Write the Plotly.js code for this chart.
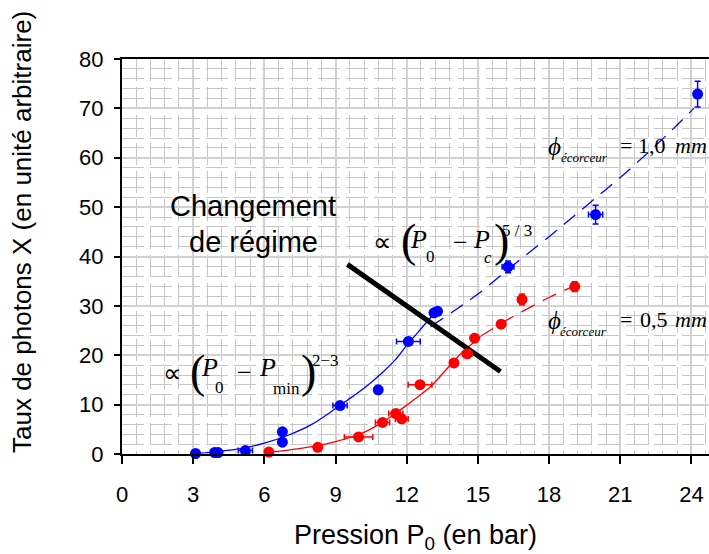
<!DOCTYPE html>
<html><head><meta charset="utf-8">
<script src="https://cdn.plot.ly/plotly-3.0.1.min.js"></script>
<style>html,body{margin:0;padding:0;background:#fff}#chart{width:709px;height:554px}</style>
</head><body><div id="chart"></div>
<script>
// ---- data ----
const blueX    = [3.1, 3.9, 4.05, 5.2, 6.76, 6.76, 9.19, 10.8, 12.07, 13.15, 13.3, 16.27, 19.96, 24.26];
const blueY    = [0.1, 0.3, 0.3, 0.7, 4.5, 2.4, 9.8, 13.0, 22.8, 28.6, 28.9, 37.9, 48.5, 72.9];
const blueXErr = [0, 0, 0, 0.3, 0, 0, 0.3, 0, 0.5, 0, 0, 0.25, 0.3, 0];
const blueYErr = [0, 0, 0, 0, 0, 0, 0, 0, 0, 0.5, 0.5, 1.2, 1.9, 2.6];

const redX    = [6.19, 8.25, 9.97, 10.98, 11.54, 11.79, 12.56, 13.99, 14.55, 14.86, 15.98, 16.86, 19.08];
const redY    = [0.4, 1.35, 3.45, 6.4, 8.2, 7.1, 14.05, 18.45, 20.3, 23.45, 26.3, 31.3, 33.9];
const redXErr = [0, 0, 0.6, 0.3, 0.3, 0.27, 0.5, 0, 0.2, 0, 0, 0, 0.15];
const redYErr = [0, 0, 0, 0, 0, 0, 0, 0, 0, 0, 0, 1.1, 1.0];

// fitted curves
const blueFitSolidX = [3.1, 4, 5, 6, 7, 8, 9, 9.5, 10, 10.5, 11, 11.5, 12, 12.5, 13, 13.3];
const blueFitSolidY = [0.1, 0.5, 1.1, 2.2, 3.8, 6.0, 9.2, 10.9, 12.6, 14.5, 16.6, 19.0, 22.0, 24.8, 27.6, 29.2];
const blueFitDashX  = [13.0, 14, 15, 16, 17, 18, 19, 20, 21, 22, 23, 24.1];
const blueFitDashY  = [25.8, 29.0, 32.4, 36.3, 40.2, 44.0, 48.0, 52.0, 56.0, 60.3, 64.8, 70.0];

const redFitSolidX = [6.2, 7, 8, 9, 10, 10.5, 11, 11.5, 12, 12.5, 13, 13.5, 14, 14.5, 15.1];
const redFitSolidY = [0.4, 0.8, 1.5, 2.5, 4.0, 5.1, 6.5, 8.1, 9.9, 11.7, 13.6, 16.2, 18.9, 21.3, 23.6];
const redFitDashX  = [15.1, 16, 17, 18, 19.0];
const redFitDashY  = [23.8, 26.5, 29.2, 31.7, 33.9];

const regimeLineX = [9.5, 15.95];
const regimeLineY = [38.4, 16.7];

const xTicks = [0, 3, 6, 9, 12, 15, 18, 21, 24];
const yTicks = [0, 10, 20, 30, 40, 50, 60, 70, 80];

const xTitle = 'Pression P<sub>0</sub> (en bar)';
const yTitle = 'Taux de photons X (en unité arbitraire)';

// ---- layout geometry ----
const M = {l: 122, r: 0, t: 59, b: 100};
const XR = [0, 24.74], YR = [0, 80];
const PW = 709 - M.l - M.r, PH = 554 - M.t - M.b;
const px2x = px => XR[0] + (px - M.l) / PW * (XR[1] - XR[0]);
const px2y = py => YR[0] + (M.t + PH - py) / PH * (YR[1] - YR[0]);
const px2px = px => (px - M.l) / PW;          // paper x
const py2py = py => (M.t + PH - py) / PH;     // paper y

const SANS = 'Liberation Sans, Arial, sans-serif';
const SERIF = 'Liberation Serif, Times New Roman, serif';

function piece(text, px, py, size, opts) {
  opts = opts || {};
  return {
    x: px2x(px), y: px2y(py), xref: 'x', yref: 'y', text: text, showarrow: false,
    xanchor: opts.xanchor || 'center', yanchor: 'middle',
    font: {family: opts.family || SERIF, size: size, color: '#000'}
  };
}

const ann = [
  // y axis title (placed as annotation to match the reference's vertical centre)
  {x: px2px(22), y: py2py(232), xref: 'paper', yref: 'paper', text: yTitle, textangle: -90,
   showarrow: false, xanchor: 'center', yanchor: 'middle',
   font: {family: SANS, size: 26, color: '#000'}},
  piece('Changement', 253, 206, 29, {family: SANS}),
  piece('de régime', 253, 242, 29, {family: SANS}),
  // ∝ (P0 − Pc)^(5/3)
  piece('∝', 382, 242, 26),
  piece('(', 408, 240, 46),
  piece('<i>P</i>', 418, 239, 26),
  piece('0', 430, 256, 17),
  piece('−', 460, 242, 26),
  piece('<i>P</i>', 481, 239, 26),
  piece('<i>c</i>', 488, 257, 17),
  piece(')', 501, 240, 46),
  piece('5 / 3', 517, 230, 17),
  // ∝ (P0 − Pmin)^(2−3)
  piece('∝', 172, 373, 26),
  piece('(', 197, 371, 46),
  piece('<i>P</i>', 209, 367, 26),
  piece('0', 219, 387, 17),
  piece('−', 244, 372, 26),
  piece('<i>P</i>', 267, 367, 26),
  piece('min', 286, 388, 17),
  piece(')', 308, 371, 46),
  piece('2−3', 325, 360, 17),
  // ϕ écorceur = 1,0 mm
  piece('<i>ϕ</i>', 554, 146, 25),
  piece('<i>écorceur</i>', 584, 157, 13),
  piece('=', 626, 145, 22),
  piece('1,0', 652, 145, 22),
  piece('<i>mm</i>', 691, 145, 22),
  // ϕ écorceur = 0,5 mm
  piece('<i>ϕ</i>', 554, 320, 25),
  piece('<i>écorceur</i>', 583, 331, 13),
  piece('=', 626, 319, 22),
  piece('0,5', 654, 319, 22),
  piece('<i>mm</i>', 691, 319, 22)
];

function errs(arr, color) {
  return {type: 'data', array: arr, visible: true, color: color, thickness: 1.5, width: 3};
}

const traces = [
  {x: blueFitSolidX, y: blueFitSolidY, mode: 'lines', line: {color: '#0000ff', width: 1.3, shape: 'spline'}, hoverinfo: 'skip'},
  {x: blueFitDashX, y: blueFitDashY, mode: 'lines', line: {color: '#0000ff', width: 1.3, dash: '15px,9px', shape: 'spline'}, hoverinfo: 'skip'},
  {x: redFitSolidX, y: redFitSolidY, mode: 'lines', line: {color: '#ff0000', width: 1.3, shape: 'spline'}, hoverinfo: 'skip'},
  {x: redFitDashX, y: redFitDashY, mode: 'lines', line: {color: '#ff0000', width: 1.3, dash: '15px,9px', shape: 'spline'}, hoverinfo: 'skip'},
  {x: regimeLineX, y: regimeLineY, mode: 'lines', line: {color: '#000', width: 5}, hoverinfo: 'skip'},
  {x: blueX, y: blueY, mode: 'markers', cliponaxis: false,
   marker: {color: '#0000ff', size: 11},
   error_x: errs(blueXErr, '#0000ff'), error_y: errs(blueYErr, '#0000ff')},
  {x: redX, y: redY, mode: 'markers', cliponaxis: false,
   marker: {color: '#ff0000', size: 11},
   error_x: errs(redXErr, '#ff0000'), error_y: errs(redYErr, '#ff0000')}
];

const axisCommon = {
  showline: true, linecolor: '#000', linewidth: 2,
  ticks: 'outside', tickcolor: '#000', tickwidth: 2,
  showgrid: true, gridcolor: '#d2d2d2', gridwidth: 2, zeroline: false,
  tickfont: {family: SANS, size: 22, color: '#000'}
};

const layout = {
  width: 709, height: 554, margin: M, showlegend: false,
  paper_bgcolor: '#fff', plot_bgcolor: '#fff',
  xaxis: Object.assign({}, axisCommon, {
    range: XR, tickmode: 'array', tickvals: xTicks, ticktext: xTicks.map(String),
    ticklen: 8, mirror: true, ticklabelstandoff: 12,
    minor: {dtick: 0.6, tick0: 0, showgrid: true, gridcolor: '#c6c6c6', gridwidth: 1, griddash: '22px,6px', ticks: ''},
    title: {text: xTitle, font: {family: SANS, size: 27, color: '#000'}, standoff: 20}
  }),
  yaxis: Object.assign({}, axisCommon, {
    range: YR, tickmode: 'array', tickvals: yTicks, ticktext: yTicks.map(String),
    ticklen: 6, ticklabelstandoff: 6,
    minor: {dtick: 2, tick0: 0, showgrid: true, gridcolor: '#c6c6c6', gridwidth: 1, griddash: '22px,6px', ticks: ''},
    title: {text: ''}
  }),
  annotations: ann
};

Plotly.newPlot('chart', traces, layout, {staticPlot: true, displayModeBar: false});
</script>
</body></html>
